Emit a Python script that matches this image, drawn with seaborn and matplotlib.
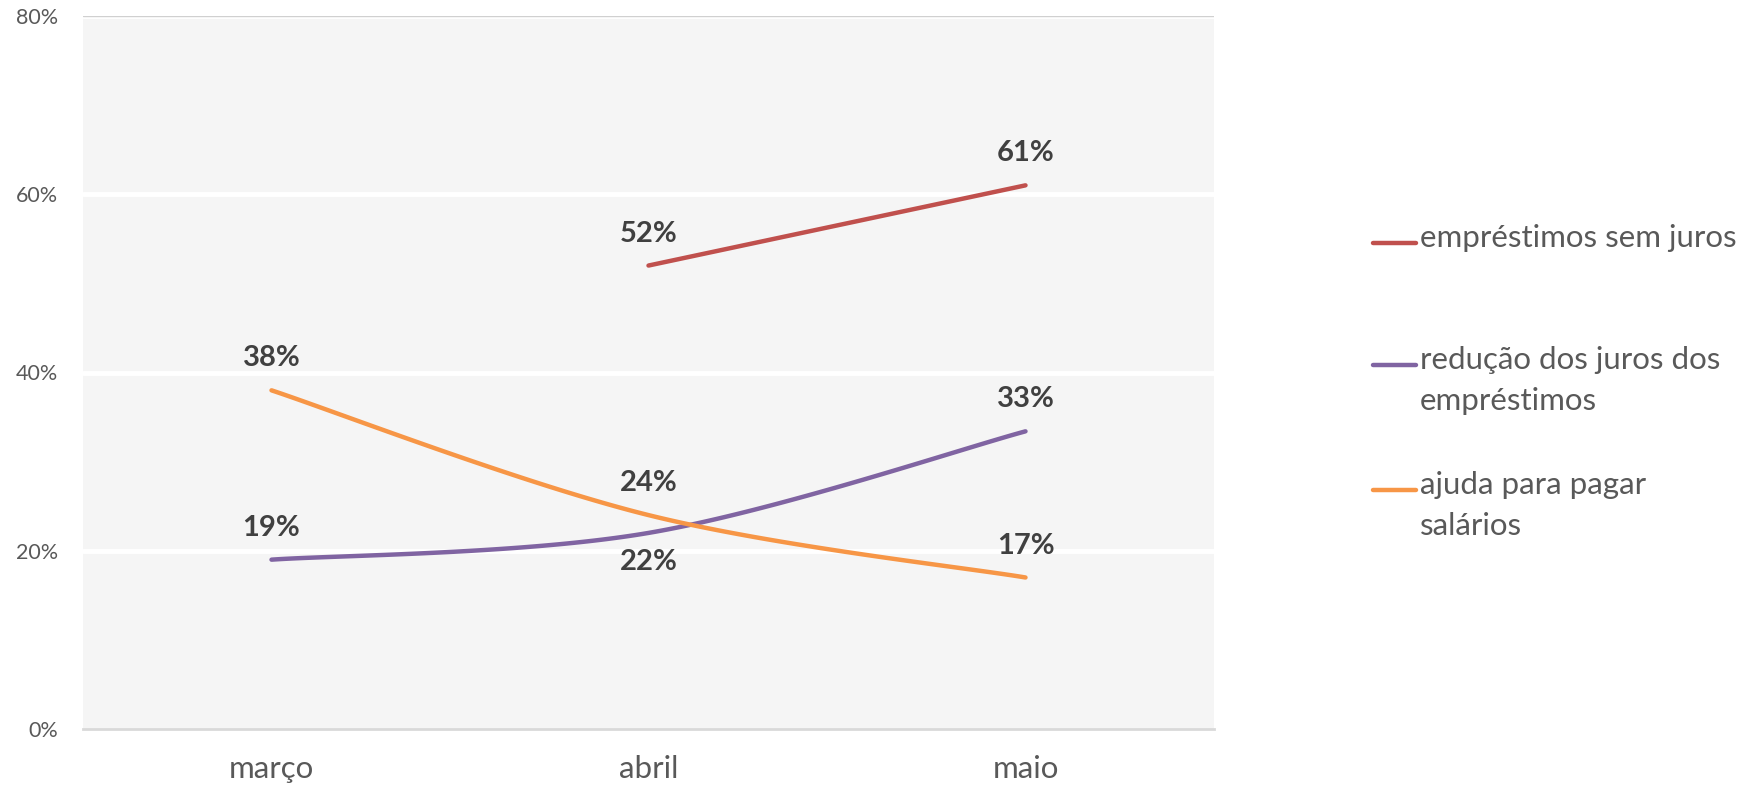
import numpy as np
import pandas as pd
import matplotlib
matplotlib.use("Agg")
import matplotlib.pyplot as plt
from matplotlib.lines import Line2D
import seaborn as sns

months = ["março", "abril", "maio"]
series_names = ["empréstimos sem juros", "redução dos juros dos\nempréstimos", "ajuda para pagar\nsalários"]
emprestimos = [np.nan, 52, 61]
reducao = [19, 22, 33.4]
ajuda = [38, 24, 17]
y_ticks = [0, 20, 40, 60, 80]

colors = ["#C0504D", "#8064A2", "#F79646"]

sns.set_theme(style="white")
plt.rcParams['font.family'] = ['Lato', 'DejaVu Sans']

def smooth(xs, ys, n=60):
    pts = [(x, y) for x, y in zip(xs, ys) if not np.isnan(y)]
    if len(pts) < 3:
        return np.array([p[0] for p in pts]), np.array([p[1] for p in pts])
    P = np.array(pts, dtype=float)
    out = []
    for i in range(len(P) - 1):
        p0 = P[i - 1] if i > 0 else P[i]
        p1 = P[i]
        p2 = P[i + 1]
        p3 = P[i + 2] if i + 2 < len(P) else P[i + 1]
        c1 = p1 + (p2 - p0) / 6.0
        c2 = p2 - (p3 - p1) / 6.0
        t = np.linspace(0, 1, n)[:, None]
        seg = ((1 - t) ** 3) * p1 + 3 * ((1 - t) ** 2) * t * c1 + 3 * (1 - t) * t ** 2 * c2 + t ** 3 * p2
        out.append(seg if i == 0 else seg[1:])
    S = np.vstack(out)
    return S[:, 0], S[:, 1]

W, H = 1746, 788
fig = plt.figure(figsize=(W / 100, H / 100), dpi=100)
ax = fig.add_axes([83 / W, 1 - 729 / H, (1214 - 83) / W, (729 - 16) / H])
ax.set_facecolor("#F5F5F5")

xpos = np.arange(len(months))
all_series = [emprestimos, reducao, ajuda]
frames = []
for name, vals in zip(series_names, all_series):
    sx, sy = smooth(xpos, np.array(vals, dtype=float))
    frames.append(pd.DataFrame({"x": sx, "y": sy, "serie": name}))
df = pd.concat(frames, ignore_index=True)

for y in y_ticks[1:]:
    ax.axhline(y, color="white", lw=3.5, zorder=1)
ax.axhline(80, color="#D0D0D0", lw=1.0, zorder=1.5)

sns.lineplot(data=df, x="x", y="y", hue="serie", palette=colors, sort=False,
             estimator=None, lw=3.2, ax=ax, zorder=3, legend=False)

# data labels (+1 above, -1 below)
offsets = {0: [None, 1, 1], 1: [1, -1, 1], 2: [1, 1, 1]}
for si, vals in enumerate(all_series):
    for i, v in enumerate(vals):
        if np.isnan(v):
            continue
        d = offsets[si][i]
        ax.annotate(f"{v:.0f}%", (i, v), xytext=(0, 23 if d > 0 else -21), textcoords="offset points",
                    ha="center", va="center", fontsize=21, fontweight="bold", color="#404040", zorder=5)

ax.set_xlim(-0.5, 2.5)
ax.set_ylim(0, 80)
ax.set_xticks(xpos)
ax.set_xticklabels(months, fontsize=22.5, color="#595959")
ax.set_yticks(y_ticks)
ax.set_yticklabels([f"{t}%" for t in y_ticks], fontsize=15.5, color="#595959")
ax.tick_params(axis="x", length=0, pad=19)
ax.tick_params(axis="y", length=0, pad=18)
ax.set_xlabel("")
ax.set_ylabel("")
for s in ["top", "right", "left"]:
    ax.spines[s].set_visible(False)
ax.spines["bottom"].set_color("#D9D9D9")
ax.spines["bottom"].set_linewidth(2)

# legend (entries in fixed-height slots, handle aligned with first text line)
leg_y = [243, 365, 490]
for name, col, yy in zip(series_names, colors, leg_y):
    fy = 1 - yy / H
    fig.add_artist(Line2D([1373 / W, 1416 / W], [fy, fy], color=col, lw=3.2,
                          solid_capstyle="round", transform=fig.transFigure))
    fig.text(1420 / W, 1 - (yy - 19) / H, name, fontsize=22.5, color="#595959", ha="left", va="top",
             linespacing=1.55, transform=fig.transFigure)

fig.savefig("out.png", dpi=100, facecolor="white")
